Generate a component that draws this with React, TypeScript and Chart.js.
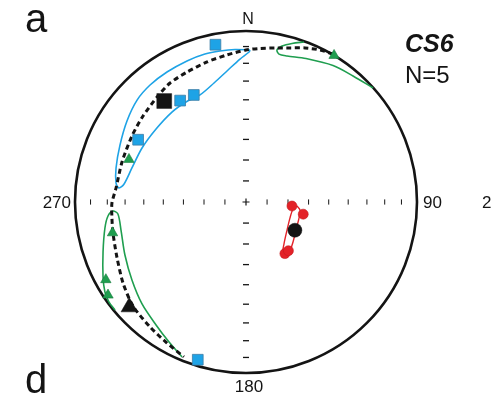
import React, { useEffect, useRef } from "react";
import { Chart, registerables } from "chart.js";

Chart.register(...registerables);

// Directions (declination / inclination, degrees), lower hemisphere
const SQUARE_DEC = [349, 327, 334, 300, 197];
const SQUARE_INC = [7, 30, 31, 28, 4];
const SQUARE_MEAN = [321, 25];
const TRIANGLE_DEC = [290, 31, 257, 241, 236];
const TRIANGLE_INC = [28, 0, 21, 7, 3];
const TRIANGLE_MEAN = [228, 9];
const CIRCLE_DEC = [95, 102, 143, 139];
const CIRCLE_INC = [68, 62, 59, 59];
const CIRCLE_MEAN = [120, 63];

// Net tick marks
const TICK_PLUNGES = [10, 20, 30, 40, 50, 60, 70, 80];
const NS_TRENDS = [0, 180];
const EW_TRENDS = [90, 270];

// Curves in net coordinates (x east, y north, primitive radius = 1)
const FIT_CIRCLE = [
  [0.509, 0.865], [0.433, 0.889], [0.345, 0.901], [0.257, 0.901], [0.17, 0.901],
  [0.082, 0.898], [0.0, 0.889], [-0.111, 0.86], [-0.228, 0.819], [-0.345, 0.76],
  [-0.444, 0.696], [-0.515, 0.62], [-0.602, 0.503], [-0.667, 0.386], [-0.725, 0.234],
  [-0.76, 0.082], [-0.784, -0.006], [-0.784, -0.094], [-0.778, -0.181], [-0.754, -0.327],
  [-0.719, -0.474], [-0.661, -0.608], [-0.561, -0.731], [-0.462, -0.825], [-0.363, -0.906],
];
const BLUE_CONE = [
  [0.023, 0.889], [-0.064, 0.892], [-0.152, 0.883], [-0.24, 0.865], [-0.345, 0.825],
  [-0.462, 0.76], [-0.561, 0.684], [-0.637, 0.596], [-0.696, 0.474], [-0.737, 0.333],
  [-0.76, 0.199], [-0.76, 0.111], [-0.743, 0.082], [-0.713, 0.105], [-0.667, 0.199],
  [-0.608, 0.316], [-0.526, 0.427], [-0.433, 0.526], [-0.351, 0.585], [-0.269, 0.626],
  [-0.187, 0.696], [-0.105, 0.772], [-0.035, 0.836], [0.018, 0.877], [0.023, 0.889],
];
const GREEN_CONE_NE = [
  [0.339, 0.936], [0.269, 0.927], [0.211, 0.912], [0.181, 0.889], [0.193, 0.865],
  [0.24, 0.854], [0.351, 0.839], [0.509, 0.798], [0.626, 0.737], [0.743, 0.667],
];
const GREEN_CONE_SW = [
  [-0.766, -0.632], [-0.801, -0.585], [-0.825, -0.526], [-0.836, -0.439], [-0.836, -0.292],
  [-0.825, -0.152], [-0.807, -0.082], [-0.778, -0.053], [-0.749, -0.07], [-0.731, -0.164],
  [-0.708, -0.31], [-0.667, -0.456], [-0.608, -0.596], [-0.526, -0.719], [-0.45, -0.819],
  [-0.374, -0.906],
];
const RED_CONE = [
  [0.298, -0.023], [0.316, -0.047], [0.31, -0.094], [0.292, -0.164], [0.275, -0.234],
  [0.257, -0.287], [0.24, -0.316], [0.216, -0.298], [0.222, -0.246], [0.24, -0.164],
  [0.257, -0.094], [0.275, -0.041], [0.298, -0.023],
];

const PANEL_TOP = "a";
const PANEL_BOTTOM = "d";
const SITE = "CS6";
const COUNT = "N=5";
const DIR_LABELS = ["N", "90", "180", "270"];
const EXTRA_LABEL = "2";

const BLUE = "#1ea3e6";
const GREEN = "#1f9e4f";
const RED = "#e32228";
const INK = "#141414";
const FONT = '"Liberation Sans", Arial, Helvetica, sans-serif';

function project(dec: number, inc: number) {
  const r = Math.SQRT2 * Math.sin(((90 - inc) / 2) * (Math.PI / 180));
  const t = (dec * Math.PI) / 180;
  return { x: r * Math.sin(t), y: r * Math.cos(t) };
}
const pts = (decs: number[], incs: number[]) => decs.map((d, i) => project(d, incs[i]));
const curve = (c: number[][]) => c.map(([x, y]) => ({ x, y }));

const netPlugin = {
  id: "net",
  beforeDatasetsDraw(chart: any) {
    const { ctx } = chart;
    const xs = chart.scales.x;
    const ys = chart.scales.y;
    const cx = xs.getPixelForValue(0);
    const cy = ys.getPixelForValue(0);
    const R = xs.getPixelForValue(1) - cx;
    ctx.save();
    ctx.beginPath();
    ctx.arc(cx, cy, R, 0, Math.PI * 2);
    ctx.lineWidth = 2.6;
    ctx.strokeStyle = INK;
    ctx.stroke();
    ctx.restore();
  },
  afterDraw(chart: any) {
    const { ctx } = chart;
    const xs = chart.scales.x;
    const ys = chart.scales.y;
    const cx = xs.getPixelForValue(0);
    const cy = ys.getPixelForValue(0);
    const R = xs.getPixelForValue(1) - cx;
    ctx.save();
    ctx.fillStyle = INK;
    ctx.textBaseline = "alphabetic";
    ctx.font = `16px ${FONT}`;
    ctx.textAlign = "center";
    ctx.fillText(DIR_LABELS[0], cx + 2, cy - R - 7.5);
    ctx.font = `17px ${FONT}`;
    ctx.fillText(DIR_LABELS[2], cx + 3, cy + R + 18.5);
    ctx.textAlign = "left";
    ctx.fillText(DIR_LABELS[1], cx + R + 6, cy + 6);
    ctx.fillText(EXTRA_LABEL, 482, cy + 6);
    ctx.textAlign = "right";
    ctx.fillText(DIR_LABELS[3], cx - R - 4, cy + 6);
    ctx.textAlign = "left";
    ctx.font = `40px ${FONT}`;
    ctx.fillText(PANEL_TOP, 25, 32);
    ctx.fillText(PANEL_BOTTOM, 25, 393);
    ctx.font = `italic bold 25px ${FONT}`;
    ctx.fillText(SITE, 405, 52);
    ctx.font = `24px ${FONT}`;
    ctx.fillText(COUNT, 405, 83);
    ctx.restore();
  },
};

export default function App() {
  const ref = useRef<HTMLCanvasElement | null>(null);
  useEffect(() => {
    if (!ref.current) return;
    const nsTicks: { x: number; y: number }[] = [];
    NS_TRENDS.forEach((t) => TICK_PLUNGES.forEach((p) => nsTicks.push(project(t, p))));
    const ewTicks: { x: number; y: number }[] = [];
    EW_TRENDS.forEach((t) => TICK_PLUNGES.forEach((p) => ewTicks.push(project(t, p))));

    const lineDs = (data: any[], color: string, order: number, extra: any = {}) => ({
      data,
      showLine: true,
      borderColor: color,
      borderWidth: 1.6,
      pointRadius: 0,
      tension: 0.3,
      fill: false,
      clip: false,
      order,
      ...extra,
    });

    const chart = new Chart(ref.current, {
      type: "scatter",
      data: {
        datasets: [
          // markers (top)
          {
            data: [project(SQUARE_MEAN[0], SQUARE_MEAN[1])],
            pointStyle: "rect",
            pointRadius: 10.5,
            backgroundColor: INK,
            borderColor: INK,
            borderWidth: 0.5,
            clip: false,
            order: 1,
          },
          {
            data: [project(TRIANGLE_MEAN[0], TRIANGLE_MEAN[1])],
            pointStyle: "triangle",
            pointRadius: 9.5,
            backgroundColor: INK,
            borderColor: INK,
            borderWidth: 0.5,
            clip: false,
            order: 1,
          },
          {
            data: [project(CIRCLE_MEAN[0], CIRCLE_MEAN[1])],
            pointStyle: "circle",
            pointRadius: 7,
            backgroundColor: INK,
            borderColor: INK,
            borderWidth: 0.5,
            clip: false,
            order: 1,
          },
          {
            data: pts(SQUARE_DEC, SQUARE_INC),
            pointStyle: "rect",
            pointRadius: 7.6,
            backgroundColor: BLUE,
            borderColor: "#3d7ea6",
            borderWidth: 0.8,
            clip: false,
            order: 2,
          },
          {
            data: pts(TRIANGLE_DEC, TRIANGLE_INC),
            pointStyle: "triangle",
            pointRadius: 6,
            backgroundColor: GREEN,
            borderColor: "#167a3c",
            borderWidth: 0.6,
            clip: false,
            order: 2,
          },
          {
            data: pts(CIRCLE_DEC, CIRCLE_INC),
            pointStyle: "circle",
            pointRadius: 5,
            backgroundColor: RED,
            borderColor: "#c41b20",
            borderWidth: 0.6,
            clip: false,
            order: 2,
          },
          // curves
          lineDs(curve(FIT_CIRCLE), INK, 3, { borderWidth: 3, borderDash: [5, 3.5], tension: 0.25 }),
          lineDs(curve(BLUE_CONE), BLUE, 4),
          lineDs(curve(GREEN_CONE_NE), GREEN, 4),
          lineDs(curve(GREEN_CONE_SW), GREEN, 4),
          lineDs(curve(RED_CONE), RED, 4, { borderWidth: 1.4 }),
          // net ticks
          {
            data: nsTicks,
            pointStyle: "line",
            pointRadius: 3,
            pointRotation: 0,
            borderColor: INK,
            borderWidth: 1.3,
            clip: false,
            order: 5,
          },
          {
            data: ewTicks,
            pointStyle: "line",
            pointRadius: 2.6,
            pointRotation: 90,
            borderColor: INK,
            borderWidth: 1,
            clip: false,
            order: 5,
          },
          {
            data: [{ x: 0, y: 0 }],
            pointStyle: "cross",
            pointRadius: 3.5,
            borderColor: INK,
            borderWidth: 1.2,
            clip: false,
            order: 5,
          },
        ] as any,
      },
      options: {
        animation: false,
        responsive: false,
        events: [],
        layout: { padding: { left: 75, right: 74, top: 31, bottom: 23 } },
        plugins: { legend: { display: false }, tooltip: { enabled: false }, title: { display: false } },
        scales: {
          x: { type: "linear", min: -1, max: 1, display: false },
          y: { type: "linear", min: -1, max: 1, display: false },
        },
      },
      plugins: [netPlugin],
    });
    return () => chart.destroy();
  }, []);

  return (
    <div style={{ position: "fixed", left: 0, top: 0, width: 491, height: 396, background: "#fff" }}>
      <canvas ref={ref} width={491} height={396} style={{ display: "block", width: 491, height: 396 }} />
    </div>
  );
}
